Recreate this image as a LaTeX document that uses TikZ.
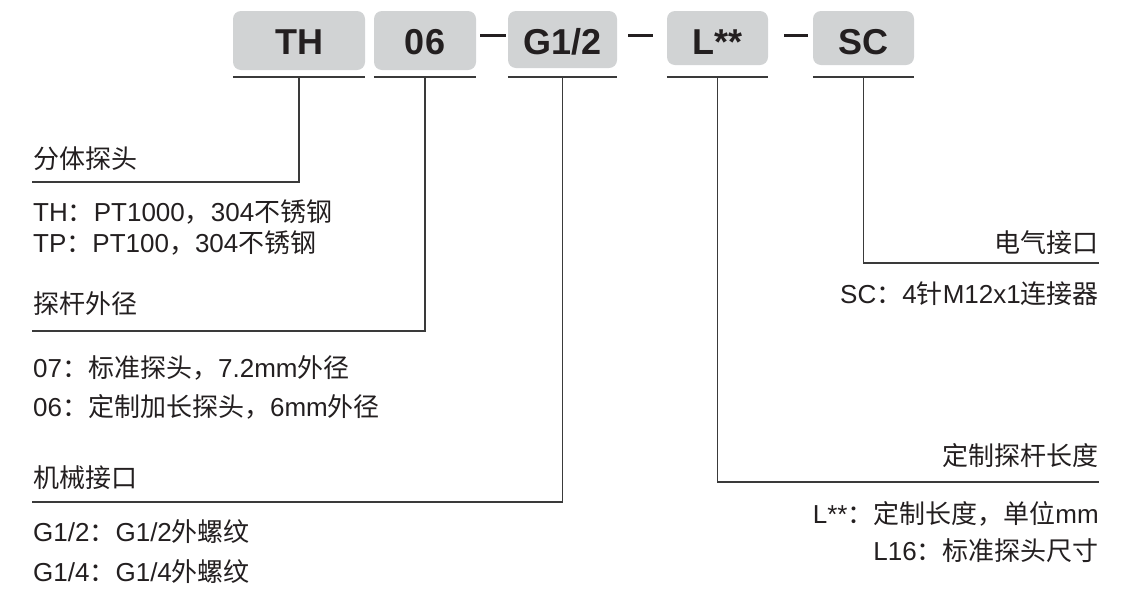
\documentclass[tikz,border=0pt]{standalone}
\usepackage{fontspec}
\setmainfont{Liberation Sans}
\newfontfamily\zhfont{Noto Sans CJK SC}
\newcommand\zh[1]{{\zhfont #1}}
\definecolor{ink}{HTML}{231F20}
\definecolor{boxgray}{HTML}{D1D3D4}
\definecolor{linegray}{HTML}{3A3A3A}
\begin{document}
\begin{tikzpicture}[x=1pt,y=-1pt,
  codebox/.style={fill=boxgray, rounded corners=8pt, inner sep=0pt, text=ink,
    font=\fontsize{36}{40}\selectfont\bfseries, text depth=0pt},
  lbl/.style={inner sep=0pt, text=ink, font=\fontsize{26}{30}\selectfont},
  conn/.style={draw=linegray, line width=1.7pt},
  hyph/.style={draw=ink, line width=3pt}]
\useasboundingbox (0,0) rectangle (1132,590);
% code boxes
\node[codebox, minimum width=132pt, minimum height=59pt, text height=27pt] (th)  at (299,40.5) {TH};
\node[codebox, minimum width=102pt, minimum height=59pt, text height=27pt] (n06) at (425,40.5) {06};
\node[codebox, minimum width=109pt, minimum height=57pt, text height=29pt] (g12) at (562.5,39.5) {G1/2};
\node[codebox, minimum width=101pt, minimum height=54pt, text height=32pt] (lss) at (717.5,38) {L**};
\node[codebox, minimum width=101pt, minimum height=54pt, text height=32pt] (sc)  at (863.5,38) {SC};
% hyphens
\coordinate (hy) at (0,35);
\draw[hyph] (n06.east |- hy) ++(4,0) -- ++(26,0);
\draw[hyph] (g12.east |- hy) ++(11,0) -- ++(25,0);
\draw[hyph] (lss.east |- hy) ++(16,0) -- ++(24,0);
% underlines
\coordinate (ul) at (0,77);
\foreach \b in {th,n06,g12,lss,sc}
  \draw[conn] (\b.west |- ul) -- (\b.east |- ul);
% connector ends
\coordinate (e1) at (32,182);
\coordinate (e2) at (32,331);
\coordinate (e3) at (32,502);
\coordinate (e4) at (1099,482);
\coordinate (e5) at (1099,263);
\draw[conn] (th.south |- ul) |- (e1);
\draw[conn] (n06.south |- ul) |- (e2);
\draw[conn] (g12.south |- ul) |- (e3);
\draw[conn] (lss.south |- ul) |- (e4);
\draw[conn] (sc.south |- ul) |- (e5);
% left labels
\node[lbl, anchor=base west] (h1)  at (33,168) {\zh{分体探头}};
\node[lbl, anchor=base west] (h1a) at (33,221) {TH\zh{：}PT1000\zh{，}304\zh{不锈钢}};
\node[lbl, anchor=base west] (h1b) at (33,252) {TP\zh{：}PT100\zh{，}304\zh{不锈钢}};
\node[lbl, anchor=base west] (h2)  at (33,313) {\zh{探杆外径}};
\node[lbl, anchor=base west] (h2a) at (33,377) {07\zh{：标准探头，}7.2mm\zh{外径}};
\node[lbl, anchor=base west] (h2b) at (33,416) {06\zh{：定制加长探头，}6mm\zh{外径}};
\node[lbl, anchor=base west] (h3)  at (33,487) {\zh{机械接口}};
\node[lbl, anchor=base west] (h3a) at (33,541) {G1/2\zh{：}G1/2\zh{外螺纹}};
\node[lbl, anchor=base west] (h3b) at (33,581) {G1/4\zh{：}G1/4\zh{外螺纹}};
% right labels
\node[lbl, anchor=base east] (h5)  at (1099,252) {\zh{电气接口}};
\node[lbl, anchor=base east] (h5a) at (1099,303) {SC\zh{：}4\zh{针}M12x1\zh{连接器}};
\node[lbl, anchor=base east] (h4)  at (1099,465) {\zh{定制探杆长度}};
\node[lbl, anchor=base east] (h4a) at (1099,523) {L**\zh{：定制长度，单位}mm};
\node[lbl, anchor=base east] (h4b) at (1099,560) {L16\zh{：标准探头尺寸}};
\end{tikzpicture}
\end{document}
